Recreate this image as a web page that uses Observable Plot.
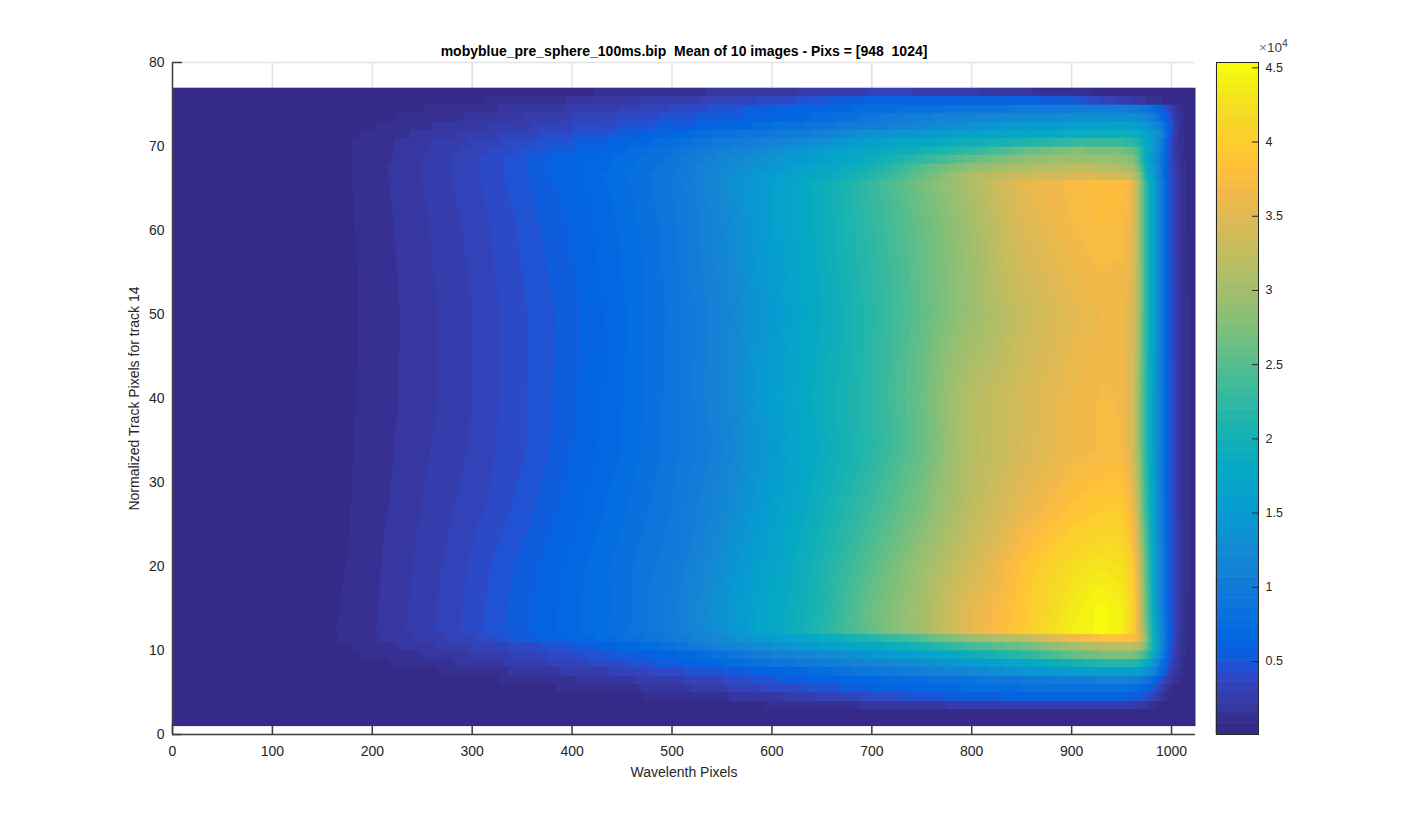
<!DOCTYPE html>
<html>
<head>
<meta charset="utf-8">
<script src="https://cdn.jsdelivr.net/npm/d3@7"></script>
<script src="https://cdn.jsdelivr.net/npm/@observablehq/plot@0.6"></script>
<style>
html,body{margin:0;padding:0;background:#fff;}
#stage{position:relative;width:1425px;height:825px;overflow:hidden;font-family:"Liberation Sans",Arial,sans-serif;}
#stage svg{position:absolute;overflow:visible;}
#exp{position:absolute;left:1259px;top:40px;font-size:13.5px;color:#404040;white-space:nowrap;}
#exp .t{color:#777;}
#exp sup{font-size:10.5px;line-height:0;vertical-align:5px;}
</style>
</head>
<body>
<div id="stage"><div id="exp"><span class="t">×</span>10<sup>4</sup></div></div>
<script>
const titleText = "mobyblue_pre_sphere_100ms.bip  Mean of 10 images - Pixs = [948  1024]";
const xLabel = "Wavelenth Pixels";
const yLabel = "Normalized Track Pixels for track 14";
const xTicks = [0,100,200,300,400,500,600,700,800,900,1000];
const yTicks = [0,10,20,30,40,50,60,70,80];
const barTicks = [5000,10000,15000,20000,25000,30000,35000,40000,45000];
const barMin = 80, barMax = 45360;

// Sampled wavelength pixels (x) for every profile below
const wave = [0,150,175,200,225,250,275,300,325,350,375,400,450,500,550,600,650,700,750,800,850,900,930,950,960,965,970,975,980,985,990,995,1000,1005,1010,1015,1024];

// Intensity profiles, in thousands of counts.
// band rows: one track pixel tall, constant over the row
const band1  = [.3,.3,.3,.3,.3,.3,.3,.3,.3,.3,.3,.3,.3,.3,.3,.3,.3,.3,.3,.3,.3,.3,.3,.3,.3,.3,.3,.3,.3,.3,.3,.3,.3,.3,.3,.3,.3];
const band2  = [.2,.2,.2,.2,.2,.2,.2,.2,.2,.2,.2,.25,.25,.3,.3,.35,.4,.4,.4,.45,.5,.5,.5,.5,.5,.5,.45,.45,.4,.4,.35,.35,.3,.3,.25,.25,.2];
const band3  = [.2,.2,.2,.2,.2,.2,.3,.3,.3,.3,.3,.4,.5,.6,.7,.8,1.2,1.6,2,2.4,2.7,2.8,2.8,2.6,2.4,2.2,1.9,1.6,1.2,.8,.6,.5,.4,.3,.3,.2,.2];
const band4  = [.2,.2,.2,.2,.3,.3,.3,.3,.3,.4,.4,.5,.7,.9,1.4,2,3,3.8,4.8,5.4,6,6.2,6.1,5.9,5.6,5.2,4.7,4.2,3.4,2.6,1.6,1,.6,.4,.3,.2,.2];
const band5  = [.2,.2,.3,.3,.3,.4,.4,.5,.6,.7,.75,.85,1.3,1.8,2.8,3.8,4.6,5.8,6.6,7.3,7.9,8.1,8.1,8,7.8,7.4,6.9,6.3,5.4,4.2,2.8,1.6,.9,.5,.4,.3,.2];
const band6  = [.2,.3,.3,.4,.4,.5,.6,.7,.78,1,1.2,1.45,2,2.7,3.6,4.9,6.1,7,7.8,8.5,9.3,10.3,10.8,11,10.8,10.4,9.8,9.1,7.8,6.2,4.4,2.8,1.6,1,.6,.4,.3];
const band7  = [.2,.3,.4,.5,.6,.7,.85,1.1,1.37,1.66,2,2.35,3.15,4.1,5,6.2,7.5,9.3,10.6,12.2,14.2,15.7,16.2,16.4,16.2,15.8,15,14,12,9.8,7,4.5,2.7,1.6,.9,.5,.3];
const band8  = [.2,.4,.5,.65,.85,1.15,1.4,1.75,2.1,2.5,2.9,3.3,4.2,5.4,7,8.6,10,11.6,13,15,17.1,19.9,21.6,22,21.8,21.2,20.2,18.6,15.7,12.5,8.8,5.5,3.2,1.9,1.1,.6,.3];
const band9  = [.3,.5,.65,.9,1.2,1.5,1.9,2.25,2.7,3.15,3.6,4.15,5.25,6.2,8.3,10.7,12.4,14.2,16.2,19.2,22,25.6,27,27.5,27.2,26.6,25,23,19.5,15.5,11,6.8,3.9,2.3,1.3,.7,.3];
const band10 = [.3,.6,.75,1.1,1.5,1.95,2.4,2.9,3.4,3.9,4.5,5.05,6.5,8.3,11.3,13.5,15.7,17.8,20.6,24,26.3,30,31.9,32.3,32.2,31.5,29.5,26,21.5,17,12,7.5,4.3,2.5,1.4,.8,.3];
const band11 = [.3,.6,.9,1.35,1.85,2.4,2.95,3.5,4.3,5.35,6,6.6,7.8,9.6,12.6,15.7,18.5,21.5,25,29.5,32,36.4,38.3,38.4,38.2,36.5,33,28,22,17,12.5,8,4.6,2.7,1.5,.9,.3];

// main rows: the body of the track, sampled at a few track pixels
const main12 = [.3,.6,.92,1.4,2,2.6,3.25,4,4.8,5.6,6.2,6.9,8.3,10.2,13.6,17.6,21.5,26,30,35.5,39.5,44,45,44,41,37,32,27,21.5,16.5,12,8,4.8,3,1.6,.9,.4];
const main15 = [.3,.6,.87,1.35,1.93,2.55,3.15,3.9,4.7,5.5,6.2,6.9,8.1,10.3,13.8,17.6,21,26.3,30.2,35.5,39,43.5,45,44,41.5,38,31.5,25.5,20.5,15,10.5,7,4.5,3,1.5,.9,.4];
const main20 = [.3,.6,.8,1.3,1.85,2.45,3.05,3.75,4.55,5.3,6,6.8,8.2,9.8,13.2,16.8,20.8,25.2,29.5,33.8,38.5,42,43.2,42.5,40,36.5,30.5,25,20,15,10.5,7,4.4,3,1.5,.9,.5];
const main27 = [.3,.5,.72,1.2,1.65,2.22,2.75,3.3,3.9,4.6,5.4,6.2,7.7,9.3,12,15.7,19.6,23.4,27.3,32,35.5,38.5,39.5,39.5,37,33.5,27.5,22.5,18,14,10,6.7,4.3,2.8,1.5,.9,.5];
const main34 = [.3,.5,.67,1.1,1.55,2.05,2.5,3,3.65,4.2,4.95,5.75,7.2,9,11.2,15,18.7,21.8,26,31.5,34.1,36.2,37,37,34.5,31,26,21.5,17.5,13.5,10,6.5,4.2,2.8,1.5,.9,.5];
const main40 = [.3,.5,.65,1.08,1.48,1.93,2.4,2.91,3.59,4.21,4.87,5.6,7.1,8.9,11.6,15.6,19.2,22,26.3,31.6,34,36.2,37,36.8,34.5,31,26,21.5,17.5,13.5,10,6.5,4.2,2.8,1.5,.9,.5];
const main50 = [.3,.5,.62,1,1.45,1.9,2.4,2.9,3.55,4.2,4.8,5.5,7,8.8,11.4,14.9,18.5,21.8,25.6,29.4,32.8,35.2,36.2,36.4,34.8,32,27,22,18,14,10,6.5,4.2,2.7,1.4,.9,.5];
const main60 = [.3,.5,.65,1.1,1.55,2.05,2.55,3.15,3.8,4.45,5.2,5.85,7.3,9,12,15.7,19,22.5,26,29.8,34.5,36.8,37.6,37.2,36,32.5,27,22,18,14,10,6.5,4,2.5,1.3,.8,.5];
const main66 = [.3,.5,.7,1.2,1.65,2.2,2.8,3.4,4.1,4.85,5.6,6.2,7.6,9.3,12.5,15.7,19.2,23,27,31,35.5,37.2,38.2,38,36.5,32.5,27,22,18,14,10,6.5,4,2.5,1.3,.8,.5];

const band66 = [.3,.5,.7,1.2,1.65,2.2,2.85,3.4,4.1,4.85,5.8,6.3,7.7,9.2,12.6,15.4,18,21.5,26,31,33,34.2,34,33.3,32.5,30,26,20,17,13,9.5,6,3.8,2.3,1.3,.8,.4];
const band67 = [.3,.5,.7,1.2,1.65,2.2,2.85,3.4,4.1,4.85,5.8,6.2,7.5,9,12.3,14.5,17.5,20.2,25,28.8,31,32,31.9,31,30,28,24,19,16,12.5,9,5.8,3.6,2.1,1.2,.7,.4];
const band68 = [.3,.5,.7,1.15,1.6,2.2,2.8,3.4,4.1,4.85,5.65,6.2,7.4,8.8,11.8,14,16,19,22.5,26,28.3,29.8,29.5,28.7,28,26,22,17.5,15,12,8.8,5.6,3.4,2,1.1,.7,.4];
const band69 = [.3,.5,.7,1.1,1.55,2.1,2.65,3.2,3.8,4.45,5.1,5.65,7,8.6,11,13,15.5,18.2,20,22.5,25.5,27.8,27.5,27,26,24.5,21.5,18.5,16,13,9.5,5.8,3.4,2,1,.6,.4];
const band70 = [.3,.5,.7,1.1,1.55,2.05,2.5,2.95,3.5,4.05,4.6,5.05,6.1,7.8,9.7,11.2,13.2,16,18,19.6,21,22.7,23,22.8,22.3,21.5,19.5,17.5,15.5,13.5,10,6,3.4,1.9,1,.6,.3];
const band71 = [.3,.45,.6,.95,1.3,1.7,2.05,2.5,2.9,3.3,3.8,4.3,5.2,6.6,8.2,9.4,11,13.6,14.9,16.1,17.4,18.7,19.1,19.2,19,18.6,17.5,16.2,15,13.5,11.5,7.5,4.3,2.2,1.1,.6,.3];
const band72 = [.3,.4,.55,.75,1.05,1.35,1.7,2,2.35,2.75,3.15,3.6,4.4,5.4,6.1,7.9,8.9,10.2,11.8,13.7,15,15.8,16.3,16.5,16.3,16,15.2,14.3,13,11.5,10,7,4.3,2.2,1.1,.6,.3];
const band73 = [.3,.3,.45,.6,.8,1.05,1.3,1.6,1.9,2.2,2.55,2.95,3.7,4.55,5.5,6,7.5,9,10.5,11.4,12.5,12.9,13,13,12.9,12.6,12.2,11.5,10.3,8.9,7.4,5.6,3.8,2,1,.6,.3];
const band74 = [.2,.3,.35,.45,.6,.78,1,1.25,1.48,1.75,2,2.3,2.95,3.65,4.6,5.8,6.7,7.4,8.3,8.9,9.4,10,10.2,10.1,9.8,9.5,9.2,8.7,7.9,6.9,5.6,4.2,2.8,1.5,.9,.6,.3];
const band75 = [.2,.2,.25,.3,.35,.45,.55,.7,.88,1.1,1.3,1.55,2,2.55,3.2,3.8,4.9,5.9,6.2,6.3,6.1,5.2,3.5,2.7,2.25,2,1.8,1.5,1.2,1,.8,.7,.6,.5,.4,.3,.2];
const band76 = [.2,.2,.2,.25,.3,.3,.35,.4,.45,.5,.6,.7,.9,1.25,1.6,2,2.4,2.95,2.9,2.3,1.65,.95,.7,.6,.55,.5,.5,.45,.4,.4,.35,.35,.3,.3,.3,.25,.2];

// [track pixel, profile]
const rows = [
  [1,band1],[1.98,band1],[2.02,band2],[2.98,band2],[3.02,band3],[3.98,band3],[4.02,band4],[4.98,band4],
  [5.02,band5],[5.98,band5],[6.02,band6],[6.98,band6],[7.02,band7],[7.98,band7],[8.02,band8],[8.98,band8],
  [9.02,band9],[9.98,band9],[10.02,band10],[10.98,band10],[11.02,band11],[11.98,band11],
  [12.02,main12],[15,main15],[20,main20],[27,main27],[34,main34],[40,main40],[50,main50],[60,main60],[65.98,main66],
  [66.02,band66],[66.98,band66],[67.02,band67],[67.98,band67],[68.02,band68],[68.98,band68],[69.02,band69],[69.98,band69],
  [70.02,band70],[70.98,band70],[71.02,band71],[71.98,band71],[72.02,band72],[72.98,band72],[73.02,band73],[73.98,band73],
  [74.02,band74],[74.98,band74],[75.02,band75],[75.98,band75],[76.02,band76],[77,band76]
];
rows.forEach(([y,p])=>{ if(p.length!==wave.length) throw new Error("bad row at "+y+": "+p.length); });
const samples = rows.flatMap(([y,p])=>p.map((v,i)=>({x:wave[i],y,v:v*1000})));

// MATLAB parula, 64 levels
const parula = [[.2081,.1663,.5292],[.2116,.1898,.5777],[.2123,.2138,.627],[.2081,.2386,.6771],[.1959,.2645,.7279],[.1707,.2919,.7792],[.1253,.3242,.8303],[.0591,.3598,.8683],[.0117,.3875,.882],[.006,.4086,.8828],[.0165,.4266,.8786],[.0329,.443,.872],[.0498,.4586,.8641],[.0629,.4737,.8554],[.0723,.4887,.8467],[.0779,.504,.8384],[.0793,.52,.8312],[.0749,.5375,.8263],[.0641,.557,.824],[.0488,.5772,.8228],[.0343,.5966,.8199],[.0265,.6137,.8135],[.0239,.6287,.8038],[.0231,.6418,.7913],[.0228,.6535,.7768],[.0267,.6642,.7607],[.0384,.6743,.7436],[.059,.6838,.7254],[.0843,.6928,.7062],[.1133,.7015,.6859],[.1453,.7098,.6646],[.1801,.7177,.6424],[.2178,.725,.6193],[.2586,.7317,.5954],[.3022,.7376,.5712],[.3482,.7424,.5473],[.3953,.7459,.5244],[.442,.7481,.5033],[.4871,.7491,.484],[.53,.7491,.4661],[.5709,.7485,.4494],[.6099,.7473,.4337],[.6473,.7456,.4188],[.6834,.7435,.4044],[.7184,.7411,.3905],[.7525,.7384,.3768],[.7858,.7356,.3633],[.8185,.7327,.3498],[.8507,.7299,.336],[.8824,.7274,.3217],[.9139,.7258,.3063],[.945,.7261,.2886],[.9739,.7314,.2666],[.9938,.7455,.2403],[.999,.7653,.2164],[.9955,.7861,.1967],[.988,.8066,.1794],[.9789,.8271,.1633],[.9697,.8481,.1475],[.9626,.8705,.1309],[.9589,.8949,.1132],[.9598,.9218,.0948],[.9661,.9514,.0755],[.9763,.9831,.0538]]
  .map(([r,g,b])=>`rgb(${Math.round(r*255)},${Math.round(g*255)},${Math.round(b*255)})`);
const step = (barMax-barMin)/64;
const thresholds = parula.slice(1).map((_,i)=>barMin+step*(i+1));
const colorScale = {type:"threshold",domain:thresholds,range:parula};
const levels = parula.map((_,i)=>({y1:barMin+step*i,y2:barMin+step*(i+1),v:barMin+step*(i+.5)}));

const ink = "#262626";
const commonStyle = {fontFamily:'"Liberation Sans",Arial,sans-serif',fontSize:"14px",color:ink,background:"transparent"};

const main = Plot.plot({
  width:1425,height:825,
  marginLeft:172,marginRight:230,marginTop:62,marginBottom:91,
  style:commonStyle,
  x:{domain:[0,1024],label:null},
  y:{domain:[0,80],label:null},
  color:colorScale,
  marks:[
    Plot.gridX(xTicks,{stroke:"#e2e2e2",strokeOpacity:1,strokeWidth:1.5}),
    Plot.gridY(yTicks,{stroke:"#e2e2e2",strokeOpacity:1,strokeWidth:1.5}),
    Plot.axisX({ticks:xTicks,tickSize:-10,tickPadding:22,tickFormat:d=>String(d),stroke:"#404040",strokeWidth:1.5,strokeOpacity:1,label:xLabel,labelAnchor:"center",labelArrow:"none",labelOffset:42}),
    Plot.axisY({ticks:yTicks,tickSize:-10,tickPadding:18,stroke:"#404040",strokeWidth:1.5,strokeOpacity:1,label:yLabel,labelAnchor:"center",labelArrow:"none",labelOffset:43}),
    Plot.raster(samples,{x:"x",y:"y",fill:"v",x1:0,x2:1024,y1:1,y2:77,interpolate:"barycentric",pixelSize:1}),
    Plot.ruleX([0],{stroke:"#404040",strokeWidth:1.5}),
    Plot.ruleY([0],{stroke:"#404040",strokeWidth:1.5}),
    Plot.text([titleText],{frameAnchor:"top",dy:-7,fontWeight:"bold",fontSize:14,fill:"#000",lineAnchor:"bottom",text:d=>d})
  ]
});
main.style.left="0px";main.style.top="0px";
document.getElementById("stage").appendChild(main);

const bar = Plot.plot({
  width:80,height:825,
  marginLeft:0,marginRight:38,marginTop:62,marginBottom:91,
  style:commonStyle,
  x:{domain:[0,1],axis:null},
  y:{domain:[barMin,barMax],label:null},
  color:colorScale,
  marks:[
    Plot.rect(levels,{x1:0,x2:1,y1:"y1",y2:"y2",fill:"v",stroke:"v",strokeWidth:0.6}),
    Plot.axisY({anchor:"right",ticks:barTicks,tickSize:-7,tickPadding:14,tickFormat:d=>String(d/10000),stroke:"#262626",strokeOpacity:1,label:null,fontSize:12.5}),
    Plot.frame({stroke:"#262626",strokeWidth:1})
  ]
});
bar.style.left="1216px";bar.style.top="0px";
document.getElementById("stage").appendChild(bar);
</script>
</body>
</html>
